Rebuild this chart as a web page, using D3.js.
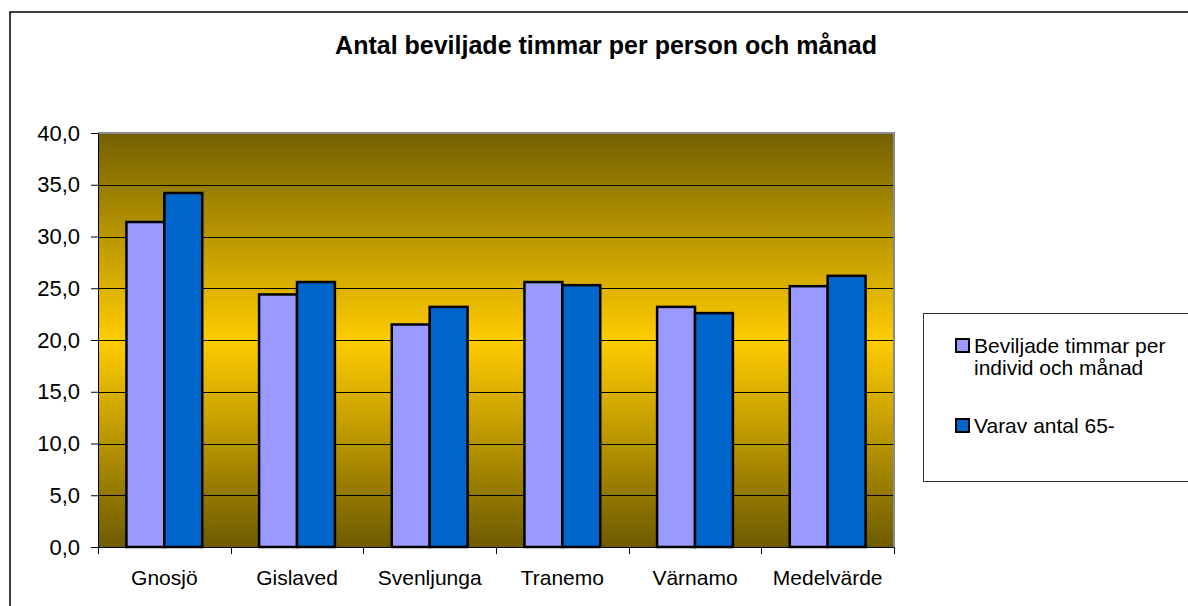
<!DOCTYPE html>
<html>
<head>
<meta charset="utf-8">
<script src="https://cdn.jsdelivr.net/npm/d3@7"></script>
<style>
  body { margin: 0; background: #fff; }
  svg { display: block; font-family: "Liberation Sans", Arial, sans-serif; }
</style>
</head>
<body>
<div id="chart"></div>
<script>
const categories = ["Gnosjö", "Gislaved", "Svenljunga", "Tranemo", "Värnamo", "Medelvärde"]
const beviljade = [31.4, 24.4, 21.5, 25.6, 23.2, 25.2]
const varav65 = [34.2, 25.6, 23.2, 25.3, 22.6, 26.2]
const seriesNames = ["Beviljade timmar per individ och månad", "Varav antal 65-"]
const seriesColors = ["#9999ff", "#0066cc"]
const yTicks = [0, 5, 10, 15, 20, 25, 30, 35, 40]
const title = "Antal beviljade timmar per person och månad"

const width = 1188, height = 606
const plot = {left: 98, right: 894, top: 133, bottom: 547}

const svg = d3.select("#chart").append("svg")
    .attr("width", width)
    .attr("height", height)

// chart area border (runs off the right and bottom edge)
svg.append("rect")
    .attr("x", 10).attr("y", 12)
    .attr("width", 1300).attr("height", 700)
    .attr("fill", "#fff")
    .attr("stroke", "#000")
    .attr("stroke-width", 1.5)

// title
svg.append("text")
    .attr("x", 606)
    .attr("y", 54)
    .attr("text-anchor", "middle")
    .style("font-weight", "bold")
    .style("font-size", "25px")
    .text(title)

const x = d3.scaleBand()
    .domain(categories)
    .range([plot.left, plot.right])
    .padding(0)

// Excel style gap width 150% -> outer padding 0.75 of a bar
const xSub = d3.scaleBand()
    .domain([0, 1])
    .range([0, x.bandwidth()])
    .paddingInner(0)
    .paddingOuter(0.75)

const y = d3.scaleLinear()
    .domain([0, 40])
    .range([plot.bottom, plot.top])

// background gradient
const defs = svg.append("defs")
const grad = defs.append("linearGradient")
    .attr("id", "bg")
    .attr("x1", 0).attr("y1", 0).attr("x2", 0).attr("y2", 1)
grad.append("stop").attr("offset", "0%").attr("stop-color", "#736000")
grad.append("stop").attr("offset", "50%").attr("stop-color", "#ffcc00")
grad.append("stop").attr("offset", "100%").attr("stop-color", "#6e5b00")

svg.append("rect")
    .attr("x", plot.left).attr("y", plot.top)
    .attr("width", plot.right - plot.left)
    .attr("height", plot.bottom - plot.top)
    .attr("fill", "url(#bg)")

// gridlines
svg.append("g")
    .selectAll("line")
    .data(yTicks.filter(d => d > 0 && d < 40))
    .join("line")
    .attr("x1", plot.left).attr("x2", plot.right)
    .attr("y1", d => Math.round(y(d)) + 0.5)
    .attr("y2", d => Math.round(y(d)) + 0.5)
    .attr("stroke", "#000")
    .attr("stroke-width", 1)

// bars
const series = [beviljade, varav65]
series.forEach((vals, s) => {
    svg.append("g")
        .selectAll("rect")
        .data(vals)
        .join("rect")
        .attr("x", (d, i) => x(categories[i]) + xSub(s))
        .attr("y", d => y(d))
        .attr("width", xSub.bandwidth())
        .attr("height", d => y(0) - y(d))
        .attr("fill", seriesColors[s])
        .attr("stroke", "#000")
        .attr("stroke-width", 2.5)
})

// plot area border, top and right in grey
svg.append("path")
    .attr("d", `M${plot.left},${plot.top}H${plot.right}V${plot.bottom}`)
    .attr("fill", "none")
    .attr("stroke", "#8a8a8a")
    .attr("stroke-width", 2)

const fmt = d => d3.format(".1f")(d).replace(".", ",")

// y axis
const yAxis = svg.append("g")
    .attr("transform", `translate(${plot.left},0)`)
    .call(d3.axisLeft(y).tickValues(yTicks).tickFormat(fmt).tickSize(7).tickSizeOuter(0).tickPadding(11))
yAxis.selectAll("text")
    .style("font-size", "22px")
    .attr("fill", "#000")
    .attr("font-family", null)
yAxis.selectAll("line, path").attr("stroke", "#000")

// x axis
const xAxis = svg.append("g")
    .attr("transform", `translate(0,${plot.bottom})`)
    .call(d3.axisBottom(x).tickSize(0).tickSizeOuter(7))
xAxis.selectAll("text")
    .style("font-size", "21px")
    .attr("fill", "#000")
    .attr("font-family", null)
    .attr("y", 38)
    .attr("dy", null)
xAxis.select("path").attr("stroke", "#000")

// category boundary ticks
xAxis.append("g")
    .selectAll("line")
    .data(categories.slice(1))
    .join("line")
    .attr("x1", d => Math.round(x(d)) + 0.5)
    .attr("x2", d => Math.round(x(d)) + 0.5)
    .attr("y1", 0).attr("y2", 7)
    .attr("stroke", "#000")

// legend
const legend = svg.append("g")
legend.append("rect")
    .attr("x", 923.5).attr("y", 313.5)
    .attr("width", 400).attr("height", 168)
    .attr("fill", "#fff")
    .attr("stroke", "#333")
    .attr("stroke-width", 1)

const legendItems = [
    {lines: ["Beviljade timmar per", "individ och månad"], y: 353},
    {lines: [seriesNames[1]], y: 433}
]
legendItems.forEach((item, i) => {
    legend.append("rect")
        .attr("x", 956).attr("y", item.y - 14)
        .attr("width", 13).attr("height", 13)
        .attr("fill", seriesColors[i])
        .attr("stroke", "#000")
        .attr("stroke-width", 2)
    const t = legend.append("text")
        .attr("x", 974)
        .attr("y", item.y)
        .style("font-size", "21px")
    item.lines.forEach((ln, j) => {
        t.append("tspan")
            .attr("x", 974)
            .attr("dy", j === 0 ? 0 : 22)
            .text(ln)
    })
})
</script>
</body>
</html>
